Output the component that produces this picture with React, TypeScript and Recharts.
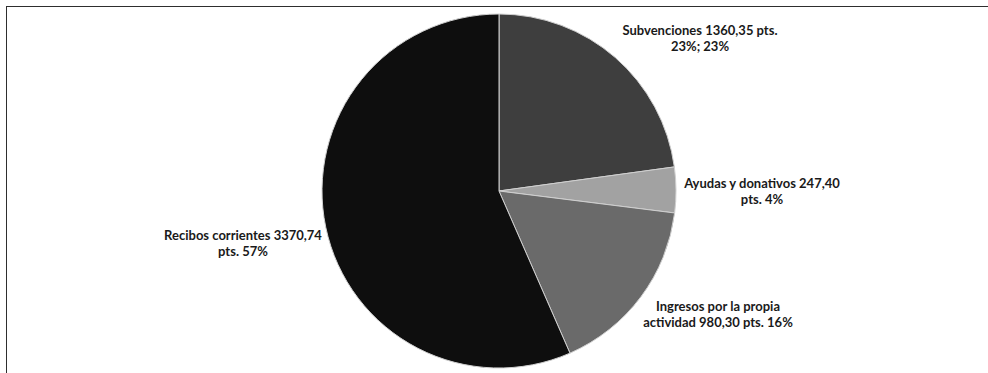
import { PieChart, Pie, Cell } from 'recharts';

const names = [
  'Subvenciones',
  'Ayudas y donativos',
  'Ingresos por la propia actividad',
  'Recibos corrientes',
];
const values = [1360.35, 247.4, 980.3, 3370.74];
const labelLines = [
  ['Subvenciones 1360,35 pts.', '23%; 23%'],
  ['Ayudas y donativos 247,40', 'pts. 4%'],
  ['Ingresos por la propia', 'actividad 980,30 pts. 16%'],
  ['Recibos corrientes 3370,74', 'pts. 57%'],
];
const colors = ['#3e3e3e', '#a2a2a2', '#6a6a6a', '#0e0e0e'];

// label offsets from the pie centre (Excel "best fit" placement), first baseline
const labelOffsets = [
  [201, -156],
  [263, -3],
  [219, 120],
  [-256, 49],
];

const data = names.map((name, i) => ({ name, value: values[i] }));

function renderLabel(props: any) {
  const { cx, cy, index } = props;
  const [dx, dy] = labelOffsets[index];
  const lines = labelLines[index];
  return (
    <text
      x={cx + dx}
      y={cy + dy}
      textAnchor="middle"
      fill="#1a1a1a"
      fontSize={13}
      fontWeight={700}
      fontFamily="Lato, 'Open Sans', sans-serif"
    >
      {lines.map((l, k) => (
        <tspan key={k} x={cx + dx} dy={k === 0 ? 0 : 16}>
          {l}
        </tspan>
      ))}
    </text>
  );
}

export default function App() {
  return (
    <div style={{ position: 'relative', width: 988, height: 373, background: '#fff' }}>
      <style>{`body{margin:0}`}</style>
      <div
        style={{
          position: 'absolute',
          left: 6,
          top: 6,
          right: 0,
          bottom: 0,
          borderTop: '1.5px solid #2e2e2e',
          borderLeft: '1.5px solid #2e2e2e',
        }}
      />
      <PieChart
        width={988}
        height={373}
        margin={{ top: 0, right: 0, bottom: 0, left: 0 }}
        style={{ position: 'absolute', left: 0, top: 0 }}
      >
        <Pie
          data={data}
          dataKey="value"
          nameKey="name"
          cx={499}
          cy={191}
          outerRadius={177}
          startAngle={90}
          endAngle={-270}
          stroke="#cfcfcf"
          strokeWidth={1}
          label={renderLabel}
          labelLine={false}
          isAnimationActive={false}
        >
          {data.map((d, i) => (
            <Cell key={d.name} fill={colors[i]} />
          ))}
        </Pie>
      </PieChart>
    </div>
  );
}
